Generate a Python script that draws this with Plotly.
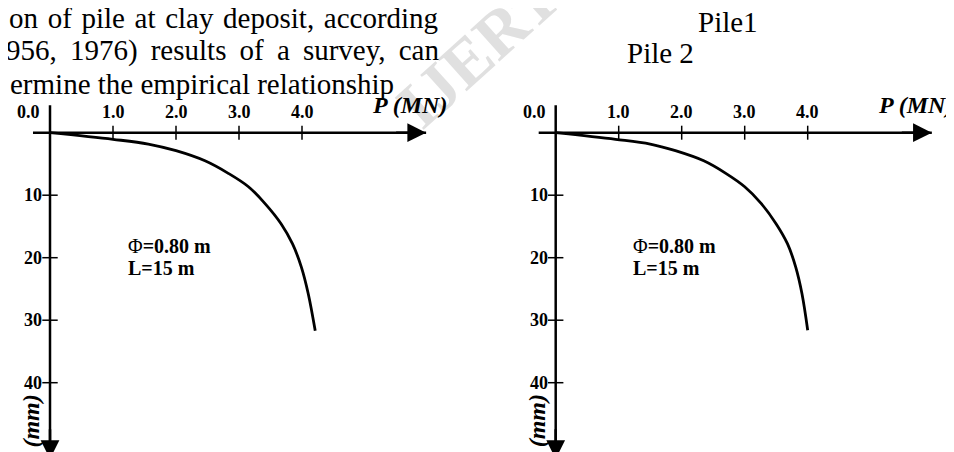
import plotly.graph_objects as go

# ---------------- data ----------------
P_PILE1 = [0, 1.0, 1.56, 2.0, 2.46, 2.83, 3.15, 3.41, 3.67, 3.85, 3.99, 4.10, 4.21]
S_PILE1 = [0, 1.06, 1.81, 2.88, 4.5, 6.5, 8.65, 11.3, 14.6, 17.8, 21.5, 25.8, 31.7]
P_PILE2 = [0, 0.95, 1.5, 1.9, 2.35, 2.7, 3.0, 3.26, 3.5, 3.68, 3.81, 3.91, 4.0]
S_PILE2 = [0, 1.06, 1.81, 2.88, 4.5, 6.5, 8.65, 11.3, 14.6, 17.8, 21.5, 25.8, 31.6]

X_TICKS = [1.0, 2.0, 3.0, 4.0]
X_TICK_LABELS = ["1.0", "2.0", "3.0", "4.0"]
Y_TICKS = [10, 20, 30, 40]
Y_TICK_LABELS = ["10", "20", "30", "40"]
ORIGIN_LABEL = "0.0"
X_TITLE = "P (MN)"
Y_TITLE = "s (mm)"
INFO_LINES = ["Φ<b>=0.80 m</b>", "<b>L=15 m</b>"]

BODY_LINES = [
    "on of pile at clay deposit, according",
    "956, 1976) results of a survey, can",
    "ermine the empirical relationship",
]
PILE_LABELS = ["Pile1", "Pile 2"]

# axis line extents (data units)
P_AXIS_EXTENT = [-0.27, 5.97]
S_AXIS_EXTENT = [-4.4, 52.2]

# ---------------- figure ----------------
W, H = 954, 452
SERIF = "Liberation Serif, Times New Roman, serif"

fig = go.Figure()

panels = [("x", "y", P_PILE1, S_PILE1), ("x2", "y2", P_PILE2, S_PILE2)]
for xa, ya, P, S in panels:
    fig.add_trace(go.Scatter(x=P, y=S, mode="lines", xaxis=xa, yaxis=ya,
                             line=dict(color="black", width=2.8, shape="spline", smoothing=1.0),
                             hoverinfo="skip", showlegend=False))
    fig.add_trace(go.Scatter(x=P_AXIS_EXTENT, y=[0, 0], mode="lines", xaxis=xa, yaxis=ya,
                             line=dict(color="black", width=2.5), hoverinfo="skip", showlegend=False))
    fig.add_trace(go.Scatter(x=[0, 0], y=S_AXIS_EXTENT, mode="lines", xaxis=xa, yaxis=ya,
                             line=dict(color="black", width=2.5), hoverinfo="skip", showlegend=False))
    fig.add_trace(go.Scatter(x=X_TICKS, y=[0] * len(X_TICKS), mode="markers", xaxis=xa, yaxis=ya,
                             marker=dict(symbol="line-ns", size=10, line=dict(color="black", width=1.5)),
                             hoverinfo="skip", showlegend=False))
    fig.add_trace(go.Scatter(x=[0] * len(Y_TICKS), y=Y_TICKS, mode="markers", xaxis=xa, yaxis=ya,
                             marker=dict(symbol="line-ew", size=11, line=dict(color="black", width=1.5)),
                             hoverinfo="skip", showlegend=False))

annotations = []

# watermark (drawn first, behind)
annotations.append(dict(xref="paper", yref="paper", x=470 / W, y=1 - 42 / H, text="<b>IJERT</b>",
                        showarrow=False, textangle=-42, xanchor="center", yanchor="middle",
                        font=dict(family=SERIF, size=66, color="#e0e0e0")))

TICK_FONT = dict(family=SERIF, size=18, color="black")
for xa, ya in [("x", "y"), ("x2", "y2")]:
    annotations.append(dict(xref=xa, yref=ya, axref=xa, ayref=ya,
                            x=P_AXIS_EXTENT[1], y=0, ax=P_AXIS_EXTENT[1] - 0.5, ay=0,
                            text="", showarrow=True, arrowhead=2, arrowsize=1.5,
                            arrowwidth=2.5, arrowcolor="black", standoff=0))
    annotations.append(dict(xref=xa, yref=ya, axref=xa, ayref=ya,
                            x=0, y=S_AXIS_EXTENT[1], ax=0, ay=S_AXIS_EXTENT[1] - 5,
                            text="", showarrow=True, arrowhead=2, arrowsize=1.5,
                            arrowwidth=2.5, arrowcolor="black", standoff=0))
    annotations.append(dict(xref=xa, yref=ya, x=0, y=0, text="<b>%s</b>" % ORIGIN_LABEL,
                            showarrow=False, xanchor="right", yanchor="bottom",
                            xshift=-8, yshift=9, font=TICK_FONT))
    for t, lab in zip(X_TICKS, X_TICK_LABELS):
        annotations.append(dict(xref=xa, yref=ya, x=t, y=0, text="<b>%s</b>" % lab,
                                showarrow=False, xanchor="center", yanchor="bottom",
                                yshift=9, font=TICK_FONT))
    for t, lab in zip(Y_TICKS, Y_TICK_LABELS):
        annotations.append(dict(xref=xa, yref=ya, x=0, y=t, text="<b>%s</b>" % lab,
                                showarrow=False, xanchor="right", yanchor="middle",
                                xshift=-6, font=TICK_FONT))
    annotations.append(dict(xref=xa, yref=ya, x=P_AXIS_EXTENT[1], y=0,
                            text="<b><i>%s</i></b>" % X_TITLE, showarrow=False,
                            xanchor="right", yanchor="bottom", xshift=23, yshift=13,
                            font=dict(family=SERIF, size=24, color="black")))
    annotations.append(dict(xref=xa, yref=ya, x=0, y=S_AXIS_EXTENT[1],
                            text="<b><i>%s</i></b>" % Y_TITLE, showarrow=False, textangle=-90,
                            xanchor="center", yanchor="middle", xshift=-19, yshift=30,
                            font=dict(family=SERIF, size=24, color="black")))
    annotations.append(dict(xref=xa, yref=ya, x=1.2, y=18.1, text=INFO_LINES[0],
                            showarrow=False, xanchor="left", yanchor="middle",
                            font=dict(family=SERIF, size=20, color="black")))
    annotations.append(dict(xref=xa, yref=ya, x=1.2, y=21.7, text=INFO_LINES[1],
                            showarrow=False, xanchor="left", yanchor="middle",
                            font=dict(family=SERIF, size=20, color="black")))

body_pos = [(-1, 10, 2.4), (-4, 43, 5.9), (0, 76, 0)]
for txt, (px, py, ws) in zip(BODY_LINES, body_pos):
    t = txt if ws == 0 else '<span style="word-spacing:%.1fpx">%s</span>' % (ws, txt)
    annotations.append(dict(xref="paper", yref="paper", x=px / W, y=1 - py / H, text=t,
                            showarrow=False, xanchor="left", yanchor="middle",
                            font=dict(family=SERIF, size=29, color="black")))

for lab, (px, py) in zip(PILE_LABELS, [(720, 14), (652, 45)]):
    annotations.append(dict(xref="paper", yref="paper", x=px / W, y=1 - py / H, text=lab,
                            showarrow=False, xanchor="center", yanchor="middle",
                            font=dict(family=SERIF, size=29, color="black")))

Y0_PX, Y_SCALE = 124.7, 6.25
yr = [(H - Y0_PX) / Y_SCALE, -Y0_PX / Y_SCALE]
X_SCALE = 63.0

fig.update_layout(
    width=W, height=H, margin=dict(l=0, r=0, t=0, b=0),
    paper_bgcolor="white", plot_bgcolor="white", showlegend=False,
    xaxis=dict(domain=[0, 0.5], range=[-42 / X_SCALE, (477 - 42) / X_SCALE], visible=False),
    yaxis=dict(domain=[0, 1], range=yr, visible=False),
    xaxis2=dict(domain=[0.5, 1], range=[(477 - 547.7) / X_SCALE, (954 - 547.7) / X_SCALE],
                visible=False, anchor="y2"),
    yaxis2=dict(domain=[0, 1], range=yr, visible=False, anchor="x2"),
    annotations=annotations,
)

fig.write_html("out.html")
